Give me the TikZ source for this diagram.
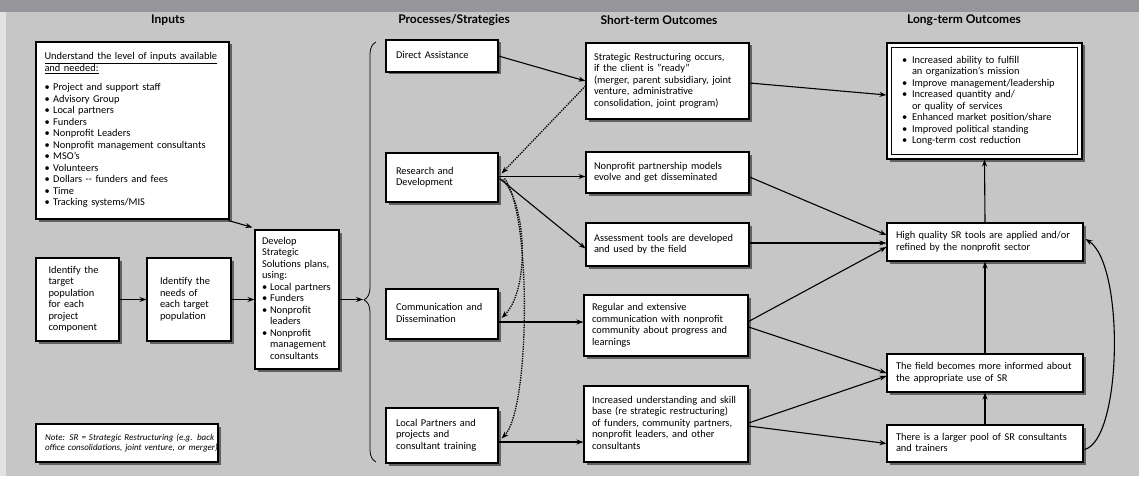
\documentclass[tikz,border=0pt]{standalone}
\usepackage{fontspec}
\setmainfont{Carlito}
\newfontfamily\headfont{Lato}
\usetikzlibrary{shadows,decorations.pathreplacing,arrows.meta,calc}
\definecolor{bgc}{HTML}{C6C6C6}
\definecolor{topc}{HTML}{96969A}
\definecolor{leftc}{HTML}{E3E3E3}
\newcommand\bodyfs{\fontsize{10.4}{11.5}\selectfont}
\newcommand\tl[1]{\begin{tabular}{@{}l@{}}#1\end{tabular}}
\newcommand\bul{\makebox[8pt][l]{\textbullet}}
\newcommand\bulind{\hspace*{8pt}}
\newcommand\lbul{\makebox[10pt][l]{\textbullet}}
\newcommand\lbulind{\hspace*{10pt}}
\tikzset{
  box/.style={draw, fill=white, line width=1.1pt, inner sep=0pt, align=left, font=\bodyfs,
    drop shadow={shadow xshift=2.5pt, shadow yshift=-2.5pt, fill=black!75, opacity=0.75}},
  head/.style={font=\headfont\fontsize{12}{14}\selectfont\bfseries, inner sep=0pt},
  arr/.style={-{Stealth[length=7pt,width=5pt]}, line width=1.1pt},
  darr/.style={-{Stealth[length=7pt,width=5pt]}, line width=1.3pt, dash pattern=on 1.3pt off 1.1pt},
}
\begin{document}
\begin{tikzpicture}[x=1pt,y=-1pt]
\useasboundingbox (0,0) rectangle (1139,476);
\fill[bgc] (0,0) rectangle (1139,476);
\fill[leftc] (0,12) rectangle (6,476);
\fill[topc] (0,0) rectangle (1139,12);

% headings
\node[head] (h1) at (168,20) {Inputs};
\node[head] (h2) at (454,20) {Processes/Strategies};
\node[head] (h3) at (659,20) {Short-term Outcomes};
\node[head] (h4) at (964,20) {Long-term Outcomes};

% inputs column
\node[box, minimum width=193pt, minimum height=177pt, text width=176pt] (inp) at (132.5,130.5) {\tl{%
\underline{Understand the level of inputs available}\\
\underline{and needed:}\\[8pt]
\textbullet\ Project and support staff\\
\textbullet\ Advisory Group\\
\textbullet\ Local partners\\
\textbullet\ Funders\\
\textbullet\ Nonprofit Leaders\\
\textbullet\ Nonprofit management consultants\\
\textbullet\ MSO's\\
\textbullet\ Volunteers\\
\textbullet\ Dollars {-}{-} funders and fees\\
\textbullet\ Time\\
\textbullet\ Tracking systems/MIS}};

\node[box, minimum width=83pt, minimum height=83pt, text width=58pt] (tgt) at (77.5,299.5) {\tl{%
Identify the\\ target\\ population\\ for each\\ project\\ component}};
\node[box, minimum width=84pt, minimum height=83pt, text width=58pt] (nds) at (189,299.5) {\tl{%
Identify the\\ needs of\\ each target\\ population}};
\node[box, minimum width=84pt, minimum height=139pt, text width=70pt] (dev) at (297,299.5) {\tl{%
Develop\\ Strategic\\ Solutions plans,\\ using:\\
\bul Local partners\\ \bul Funders\\ \bul Nonprofit\\ \bulind leaders\\
\bul Nonprofit\\ \bulind management\\ \bulind consultants}};

\node[box, minimum width=182pt, minimum height=38pt, text width=164pt,
  font=\fontsize{9}{10}\selectfont\itshape] (note) at (127,443) {\tl{%
Note: SR = Strategic Restructuring (e.g. back\\ office consolidations, joint venture, or merger)}};

% brace
\coordinate (btip) at (363,299.5);
\draw[decorate, decoration={brace, amplitude=12pt, aspect=0.386}, line width=0.8pt] (376,462) -- (376,42);

% processes
\node[box, minimum width=112pt, minimum height=32pt, text width=92pt] (da) at (442,56) {\tl{Direct Assistance}};
\node[box, minimum width=112pt, minimum height=49pt, text width=92pt] (rd) at (442,177.5) {\tl{Research and\\ Development}};
\node[box, minimum width=112pt, minimum height=50pt, text width=92pt] (cd) at (442,314) {\tl{Communication and\\ Dissemination}};
\node[box, minimum width=112pt, minimum height=55pt, text width=92pt] (lp) at (442,435.5) {\tl{Local Partners and\\ projects and\\ consultant training}};

% short-term
\node[box, minimum width=163pt, minimum height=76pt, text width=147pt] (sr) at (667.5,81) {\tl{%
Strategic Restructuring occurs,\\ if the client is "ready"\\ (merger, parent subsidiary, joint\\ venture, administrative\\ consolidation, joint program)}};
\node[box, minimum width=163pt, minimum height=41pt, text width=147pt] (np) at (667.5,172.5) {\tl{%
Nonprofit partnership models\\ evolve and get disseminated}};
\node[box, minimum width=163pt, minimum height=43pt, text width=147pt] (at) at (667.5,244.5) {\tl{%
Assessment tools are developed\\ and used by the field}};
\node[box, minimum width=164pt, minimum height=61pt, text width=148pt] (re) at (666,325.5) {\tl{%
Regular and extensive\\ communication with nonprofit\\ community about progress and\\ learnings}};
\node[box, minimum width=164pt, minimum height=76pt, text width=148pt] (iu) at (666,424) {\tl{%
Increased understanding and skill\\ base (re strategic restructuring)\\ of funders, community partners,\\ nonprofit leaders, and other\\ consultants}};

% long-term
\node[box, minimum width=195pt, minimum height=116pt, text width=165pt] (lt) at (984.5,101) {\tl{%
\lbul Increased ability to fulfill\\ \lbulind an organization's mission\\
\lbul Improve management/leadership\\
\lbul Increased quantity and/\\ \lbulind or quality of services\\
\lbul Enhanced market position/share\\
\lbul Improved political standing\\
\lbul Long-term cost reduction}};
\draw[line width=0.7pt] ($(lt.north west)+(5,5)$) rectangle ($(lt.south east)+(-5,-5)$);
\node[box, minimum width=196pt, minimum height=38pt, text width=178pt] (hq) at (985,242) {\tl{%
High quality SR tools are applied and/or\\ refined by the nonprofit sector}};
\node[box, minimum width=196pt, minimum height=38pt, text width=178pt] (fi) at (985,373) {\tl{%
The field becomes more informed about\\ the appropriate use of SR}};
\node[box, minimum width=196pt, minimum height=37pt, text width=178pt] (po) at (985,443.5) {\tl{%
There is a larger pool of SR consultants\\ and trainers}};

% connectors: inputs
\draw[arr] ($(inp.south east)+(-1,1)$) -- ($(dev.north west)+(-2,-2)$);
\draw[arr] (tgt.east) -- (nds.west);
\draw[arr] (nds.east) -- (dev.west);
\draw[arr] (dev.east) -- (btip);

% processes -> short-term
\draw[arr] (da.east) -- (sr.west);
\draw[darr] ($(sr.west)+(0,5)$) -- ($(rd.east)+(3,-4)$);
\draw[arr] ($(rd.east)+(0,-1)$) -- ($(rd.east -| np.west)+(0,-1)$);
\draw[arr] ($(rd.east)+(1,1)$) -- ($(at.west)+(0,4)$);
\draw[darr] ($(rd.east)+(4,2)$) .. controls (527,205) and (530,290) .. ($(cd.east)+(3,4)$);
\draw[darr] ($(rd.east)+(6,1)$) .. controls (532,215) and (530,410) .. ($(lp.east)+(3,3)$);
\draw[arr] ($(cd.east)+(0,8)$) -- ($(cd.east -| re.west)+(0,8)$);
\draw[arr] ($(lp.east)+(0,6.5)$) -- ($(lp.east -| iu.west)+(0,6.5)$);

% short-term -> long-term
\draw[arr] ($(sr.east)+(0,2)$) -- ($(lt.west)+(0,-6)$);
\draw[arr] ($(np.east)+(0,4.5)$) -- ($(hq.west)+(0,-7)$);
\draw[arr] ($(at.east)+(0,-1.5)$) -- ($(at.east -| hq.west)+(0,-1.5)$);
\draw[arr] ($(re.east)+(0,-4)$) -- ($(hq.west)+(0,5)$);
\draw[arr] ($(re.east)+(0,1.5)$) -- (fi.west);
\draw[arr] ($(iu.east)+(0,-1)$) -- ($(fi.west)+(0,3)$);
\draw[arr] ($(iu.east)+(0,2)$) -- (po.west);

% long-term chain
\draw[arr] (hq.north) -- (lt.south);
\draw[arr] (fi.north) -- (hq.south);
\draw[arr] (po.north) -- (fi.south);
\draw[arr] ($(po.east)+(1,6)$) .. controls (1122,440) and (1125,265) .. ($(hq.east)+(2,-3)$);
\end{tikzpicture}
\end{document}
